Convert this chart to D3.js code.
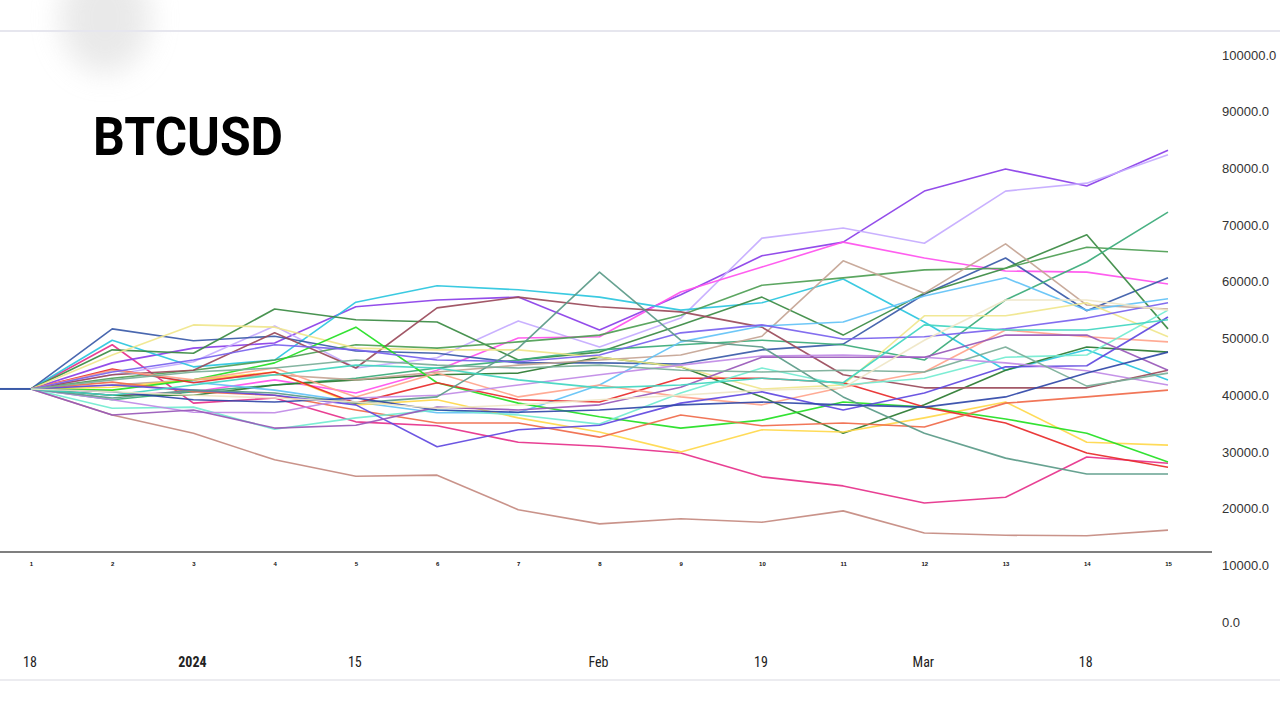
<!DOCTYPE html>
<meta charset="utf-8">
<script src="https://d3js.org/d3.v7.min.js"></script>
<style>
  body { margin: 0; background: #fff; }
  svg { display: block; }
</style>
<div id="my_dataviz"></div>
<script>

// step index of each point (1..15)
var steps = d3.range(1, 16);

// simulated paths, values in thousands of USD
var s01 = [41.1, 36.5, 33.3, 28.6, 25.7, 25.9, 19.8, 17.3, 18.2, 17.6, 19.6, 15.7, 15.3, 15.2, 16.2];
var s02 = [41.1, 48.9, 38.6, 39.5, 35.3, 34.6, 31.7, 31.0, 29.8, 25.6, 24.0, 21.0, 22.0, 29.1, 28.0];
var s03 = [41.1, 45.7, 48.3, 49.2, 55.6, 56.8, 57.3, 51.5, 57.7, 64.6, 67.0, 76.0, 79.9, 76.9, 83.2];
var s04 = [41.1, 43.6, 45.9, 52.2, 44.8, 46.6, 53.1, 48.5, 53.6, 67.7, 69.5, 66.8, 76.0, 77.4, 82.4];
var s05 = [41.1, 40.0, 40.6, 42.7, 40.4, 44.4, 50.1, 50.3, 58.2, 62.6, 67.0, 64.2, 61.9, 61.7, 59.6];
var s06 = [41.1, 49.7, 45.0, 46.2, 56.4, 59.3, 58.6, 57.3, 55.0, 56.3, 60.5, 52.9, 44.4, 48.0, 42.7];
var s07 = [41.1, 51.7, 49.6, 50.4, 47.8, 47.4, 45.7, 45.7, 45.5, 48.0, 49.0, 57.8, 64.2, 54.9, 60.7];
var s08 = [41.1, 48.0, 47.4, 55.2, 53.3, 52.9, 46.2, 47.6, 52.4, 57.3, 50.6, 58.0, 62.4, 68.3, 51.7];
var s09 = [41.1, 43.0, 44.4, 46.2, 48.9, 48.3, 49.4, 50.6, 54.1, 59.4, 60.7, 62.1, 62.4, 66.1, 65.3];
var s10 = [41.1, 39.2, 40.6, 41.8, 43.0, 44.8, 46.2, 48.0, 48.9, 49.7, 48.9, 46.2, 56.8, 63.5, 72.3];
var s11 = [41.1, 40.0, 40.0, 41.8, 42.7, 43.6, 43.9, 46.7, 45.0, 39.7, 33.3, 38.3, 44.4, 48.5, 47.6];
var s12 = [41.1, 41.8, 42.7, 43.6, 42.7, 44.1, 45.3, 46.2, 47.1, 50.4, 63.7, 58.0, 66.7, 55.9, 55.2];
var s13 = [41.1, 43.6, 44.4, 51.0, 44.8, 55.4, 57.3, 55.6, 54.7, 52.0, 43.6, 41.3, 41.3, 41.3, 44.4];
var s14 = [41.1, 44.4, 42.3, 40.9, 38.8, 36.9, 36.9, 41.8, 49.4, 52.2, 52.9, 57.5, 60.7, 55.0, 57.0];
var s15 = [41.1, 47.1, 52.4, 52.0, 48.3, 48.0, 48.0, 46.7, 45.0, 41.1, 41.8, 54.0, 54.0, 56.3, 50.3];
var s16 = [41.1, 41.4, 42.7, 44.1, 38.3, 39.2, 36.0, 33.5, 30.0, 33.9, 33.5, 36.0, 38.8, 31.7, 31.2];
var s17 = [41.1, 40.9, 42.7, 45.7, 52.0, 42.2, 38.6, 36.2, 34.2, 35.6, 38.8, 37.9, 35.8, 33.3, 28.2];
var s18 = [41.1, 44.6, 42.2, 44.1, 38.6, 42.2, 39.2, 38.8, 43.0, 43.0, 42.2, 37.9, 35.1, 29.8, 27.3];
var s19 = [41.1, 42.3, 40.6, 40.0, 37.4, 35.1, 35.1, 32.6, 36.5, 34.6, 35.1, 34.4, 38.6, 39.7, 40.9];
var s20 = [41.1, 44.4, 42.7, 44.8, 39.7, 43.9, 39.7, 41.8, 39.7, 38.3, 41.4, 44.1, 51.5, 50.3, 49.4];
var s21 = [41.1, 37.7, 37.9, 34.0, 36.0, 37.4, 36.5, 34.9, 40.4, 44.8, 41.8, 43.0, 46.7, 47.1, 55.0];
var s22 = [41.1, 41.8, 40.9, 40.0, 38.3, 30.9, 33.9, 34.7, 38.6, 40.6, 37.4, 40.4, 45.0, 45.2, 53.8];
var s23 = [41.1, 39.2, 37.0, 36.9, 39.5, 40.0, 41.8, 43.6, 45.3, 46.9, 47.1, 46.7, 45.7, 44.3, 41.8];
var s24 = [41.1, 36.5, 37.4, 34.2, 34.7, 37.9, 37.4, 38.3, 41.4, 46.7, 46.7, 46.7, 50.6, 50.6, 44.4];
var s25 = [41.1, 44.1, 46.2, 48.9, 48.0, 46.2, 45.9, 47.1, 51.0, 52.4, 49.9, 50.3, 51.7, 53.6, 56.3];
var s26 = [41.1, 39.5, 40.9, 40.4, 38.6, 39.7, 48.3, 61.7, 49.7, 48.5, 39.7, 33.3, 28.9, 26.1, 26.1];
var s27 = [41.1, 42.7, 44.1, 44.8, 46.2, 45.3, 44.8, 45.3, 44.4, 44.1, 44.4, 44.1, 48.5, 41.6, 43.9];
var s28 = [41.1, 40.6, 39.2, 38.8, 39.5, 37.4, 37.0, 37.4, 38.3, 38.8, 38.3, 37.9, 39.7, 43.9, 47.6];
var s29 = [41.1, 40.0, 41.8, 43.6, 45.3, 44.8, 42.7, 41.3, 41.8, 43.0, 42.2, 52.4, 51.5, 51.5, 53.3];
var s30 = [41.1, 40.6, 40.0, 39.5, 38.8, 37.7, 38.3, 39.2, 40.0, 40.9, 41.3, 49.7, 56.8, 56.8, 55.0];

var allSeries = [s01, s02, s03, s04, s05, s06, s07, s08, s09, s10,
                 s11, s12, s13, s14, s15, s16, s17, s18, s19, s20,
                 s21, s22, s23, s24, s25, s26, s27, s28, s29, s30];

var colors = ["#c48a80", "#e6308a", "#8a3ee8", "#c4aaff", "#ff50ee", "#2ac6de",
              "#3a5aa8", "#3a8a42", "#4e9e54", "#3aaa78", "#2a7a30", "#c4a494",
              "#9a4a5a", "#62c2f6", "#f0e68c", "#ffd84a", "#22e022", "#e82a2a",
              "#f06a4a", "#ffa48c", "#72ecd0", "#6048e0", "#c08ae6", "#9858b8",
              "#7862ee", "#5a9a88", "#7aae98", "#3048a8", "#40d6c0", "#efe6c6"];

// value axis ticks and the date labels under the chart
var yTicks = [0, 10000, 20000, 30000, 40000, 50000, 60000, 70000, 80000, 90000, 100000];
var dateStep = [1, 3, 5, 8, 10, 12, 14];
var dateText = ["18", "2024", "15", "Feb", "19", "Mar", "18"];
var dateBold = [false, true, false, false, false, false, false];

var width = 1280, height = 720;

var svg = d3.select("#my_dataviz")
  .append("svg")
    .attr("width", width)
    .attr("height", height);

// faint smudge in the top left corner
var defs = svg.append("defs");
defs.append("filter")
    .attr("id", "blur")
    .attr("x", "-50%").attr("y", "-50%").attr("width", "200%").attr("height", "200%")
  .append("feGaussianBlur")
    .attr("stdDeviation", 14);
svg.append("ellipse")
    .attr("cx", 105).attr("cy", 18)
    .attr("rx", 45).attr("ry", 55)
    .attr("fill", "#d8d8d8")
    .attr("opacity", 0.55)
    .attr("filter", "url(#blur)");

// thin frame lines
svg.append("line")
    .attr("x1", 0).attr("x2", width)
    .attr("y1", 31).attr("y2", 31)
    .attr("stroke", "#e6e6ee").attr("stroke-width", 2);
svg.append("line")
    .attr("x1", 0).attr("x2", width)
    .attr("y1", 680).attr("y2", 680)
    .attr("stroke", "#ececf0").attr("stroke-width", 2);

// scales
var x = d3.scaleLinear()
  .domain([1, 15])
  .range([31, 1168]);

var y = d3.scaleLinear()
  .domain([0, 100000])
  .range([622, 55]);

// title
svg.append("text")
    .attr("x", 93)
    .attr("y", 155)
    .attr("font-family", "Roboto, 'DejaVu Sans', sans-serif")
    .attr("font-weight", 700)
    .attr("font-size", 54)
    .attr("textLength", 190)
    .attr("lengthAdjust", "spacingAndGlyphs")
    .attr("fill", "#000")
    .text("BTCUSD");

// right value axis
var yAxis = svg.append("g")
  .attr("transform", "translate(1214,0)")
  .call(d3.axisRight(y).tickValues(yTicks).tickSize(0).tickPadding(8)
        .tickFormat(function(d) { return d3.format(".1f")(d); }));
yAxis.select(".domain").remove();
yAxis.selectAll("text")
    .attr("font-family", "'Liberation Sans', Arial, sans-serif")
    .attr("font-size", 13)
    .attr("fill", "#333");

// base line and step numbers
svg.append("line")
    .attr("x1", 0).attr("x2", 1212)
    .attr("y1", 552).attr("y2", 552)
    .attr("stroke", "#555").attr("stroke-width", 1.6);

var xAxis = svg.append("g")
  .attr("transform", "translate(0,560)")
  .call(d3.axisBottom(x).tickValues(steps).tickSize(0).tickPadding(2)
        .tickFormat(d3.format("d")));
xAxis.select(".domain").remove();
xAxis.selectAll("text")
    .attr("font-family", "'Liberation Sans Narrow', 'Liberation Sans', sans-serif")
    .attr("font-weight", 700)
    .attr("font-size", 6)
    .attr("fill", "#111");

// date labels
var dates = svg.append("g");
dates.selectAll("text")
  .data(dateStep)
  .enter()
  .append("text")
    .attr("x", function(d) { return x(d) - 1; })
    .attr("y", 667)
    .attr("text-anchor", "middle")
    .attr("font-family", "'Liberation Sans Narrow', 'Roboto Condensed', Roboto, sans-serif")
    .attr("font-size", 14)
    .attr("font-weight", function(d, i) { return dateBold[i] ? 700 : 400; })
    .attr("fill", "#222")
    .text(function(d, i) { return dateText[i]; });

// lead-in of the starting price
svg.append("line")
    .attr("x1", 0).attr("x2", x(1))
    .attr("y1", y(s01[0] * 1000)).attr("y2", y(s01[0] * 1000))
    .attr("stroke", "#3a5aa8").attr("stroke-width", 2);

// the paths
var line = d3.line()
  .x(function(d, i) { return x(steps[i]); })
  .y(function(d) { return y(d * 1000); });

svg.append("g")
  .selectAll("path")
  .data(allSeries)
  .enter()
  .append("path")
    .attr("d", function(d) { return line(d); })
    .attr("fill", "none")
    .attr("stroke", function(d, i) { return colors[i]; })
    .attr("stroke-width", 1.6)
    .attr("stroke-linejoin", "round")
    .attr("opacity", 0.92);

</script>
